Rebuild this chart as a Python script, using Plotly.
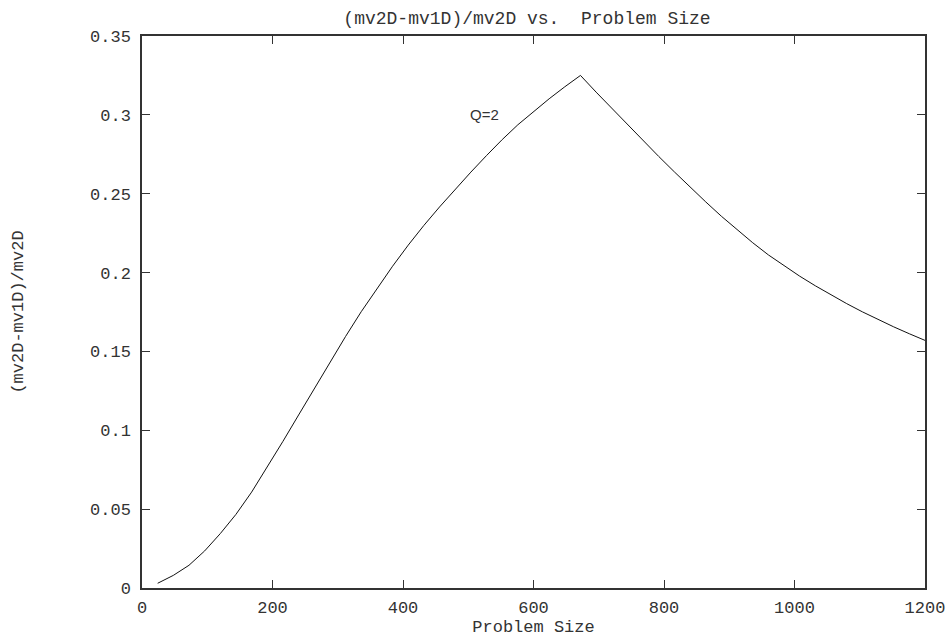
import plotly.graph_objects as go

problem_size = [24, 48, 72, 96, 120, 144, 168, 192, 216, 240,
                264, 288, 312, 336, 360, 384, 408, 432, 456, 480,
                504, 528, 552, 576, 600, 624, 648, 672, 696, 720,
                744, 768, 792, 816, 840, 864, 888, 912, 936, 960,
                984, 1008, 1032, 1056, 1080, 1104, 1128, 1152, 1176, 1200]
ratio = [0.003, 0.008, 0.0144, 0.0235, 0.0345, 0.0467, 0.0608, 0.0765, 0.0930, 0.1097,
         0.1265, 0.1432, 0.1595, 0.1752, 0.1900, 0.2040, 0.2174, 0.2299, 0.2416, 0.2529,
         0.2637, 0.2742, 0.2843, 0.2937, 0.3022, 0.3102, 0.3178, 0.3250, 0.3144, 0.3041,
         0.2938, 0.2837, 0.2736, 0.2638, 0.2542, 0.2448, 0.2357, 0.2271, 0.2189, 0.2112,
         0.2042, 0.1977, 0.1916, 0.1858, 0.1803, 0.1751, 0.1702, 0.1656, 0.1612, 0.1570]

x_ticks = [0, 200, 400, 600, 800, 1000, 1200]
y_ticks = [0, 0.05, 0.1, 0.15, 0.2, 0.25, 0.3, 0.35]
y_labels = ["0", "0.05", "0.1", "0.15", "0.2", "0.25", "0.3", "0.35"]

MONO = "Liberation Mono, Courier New, monospace"
TXT = "#333333"

fig = go.Figure()
fig.add_trace(go.Scatter(x=problem_size, y=ratio, mode="lines",
                         line=dict(color="#111111", width=1), showlegend=False))

fig.add_annotation(x=500, y=0.3, text="Q=2", showarrow=False, xanchor="left",
                   yanchor="middle", font=dict(family="Liberation Sans, Arial, sans-serif",
                                               size=15, color=TXT))

axis_common = dict(showgrid=False, zeroline=False, showline=True, linecolor="#333333",
                   linewidth=1.5, mirror="allticks", ticks="inside", ticklen=8,
                   tickwidth=1.2, tickcolor="#333333", automargin=False,
                   tickfont=dict(family=MONO, size=17, color=TXT))

fig.update_xaxes(range=[0, 1200], tickvals=x_ticks, ticktext=[str(v) for v in x_ticks],
                 title=dict(text="Problem Size", font=dict(family=MONO, size=17, color=TXT),
                            standoff=0),
                 ticklabelstandoff=3, **axis_common)
fig.update_yaxes(range=[0, 0.35], tickvals=y_ticks, ticktext=y_labels,
                 title=dict(text="(mv2D-mv1D)/mv2D", font=dict(family=MONO, size=17, color=TXT),
                            standoff=62),
                 ticklabelstandoff=6, **axis_common)

fig.update_layout(
    width=952, height=641,
    margin=dict(l=142, r=27, t=36, b=53, pad=0),
    paper_bgcolor="white", plot_bgcolor="white",
    title=dict(text="(mv2D-mv1D)/mv2D vs.  Problem Size", x=527 / 952, xanchor="center",
               y=1 - 18 / 641, yanchor="middle",
               font=dict(family=MONO, size=18, color=TXT)),
)

fig.write_html("out.html")
